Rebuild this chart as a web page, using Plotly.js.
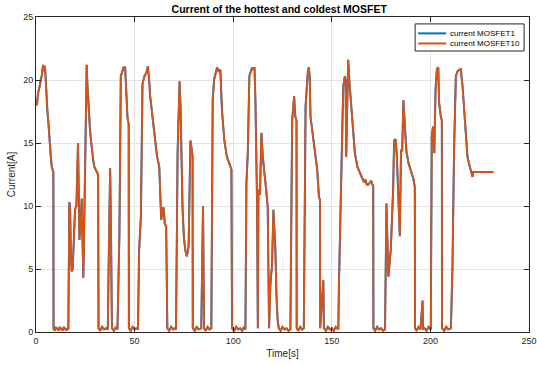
<!DOCTYPE html>
<html>
<head>
<meta charset="utf-8">
<script src="https://cdn.plot.ly/plotly-3.0.1.min.js"></script>
<style>
html,body{margin:0;padding:0;background:#fff;}
#chart{width:537px;height:365px;}
</style>
</head>
<body>
<div id="chart"></div>
<script>
// Time [s]
const timeS = [
0,0.5,1.0,1.5,2.0,2.5,3.0,3.3,3.7,4.0,4.3,4.6,5.0,5.4,5.8,6.3,6.7,7.1,7.5,8.0,8.5,8.8,
8.9,9.5,10.0,10.5,11.0,11.5,12.0,12.5,13.0,13.5,14.0,14.5,15.0,15.5,16.0,16.4,
16.9,17.3,17.7,18.1,18.6,19.2,19.8,20.5,21.0,21.3,21.6,22.0,22.6,23.2,23.5,24.0,24.5,25.0,
25.7,26.1,26.6,27.0,27.4,27.9,28.3,28.7,29.1,29.6,30.2,30.8,31.5,
31.7,32.5,33.5,34.5,35.5,36.4,37.0,37.6,38.1,38.5,39.5,40.5,41.3,
41.8,42.3,43.0,43.7,44.4,45.2,45.8,46.4,47.0,
47.1,48,49,50,51,51.7,
52.3,53.2,54.0,55.0,56.0,56.7,57.3,57.9,58.8,59.6,60.5,61.4,62.0,62.5,63.0,63.5,64.1,64.7,65.3,66.0,
66.6,67.5,68.5,69.5,70.3,71.0,
71.8,72.8,73.3,74.3,75.0,75.7,76.5,77.4,78.3,78.8,79.4,
79.5,80.5,81.5,82.5,83.8,84.2,84.7,85.2,86,87,88,88.9,
89.6,90.3,91.0,91.8,92.6,93.5,94.3,95.5,96.8,98.2,99.1,
99.4,100.5,101.5,102.5,103.5,104.5,105.5,106.2,
106.7,107.4,108.2,109.0,109.6,110.2,110.8,111.3,112.1,112.5,112.8,113.6,114.3,115.0,115.6,116.7,117.5,
118.2,118.9,119.7,120.4,121.4,121.9,122.5,
123.1,124,125,126,127,128,129.0,
129.9,130.9,131.5,132.1,
132.2,133,134,135,135.8,
136.7,137.9,138.4,138.8,139.2,140.6,141.8,142.6,143.5,144.0,
144.1,145.0,145.7,146.0,147,148,149,150,151,152,153.3,
153.6,154.5,155.0,155.8,156.6,157.0,157.3,157.9,158.3,159.0,160.4,161.7,163.0,164.0,164.6,165.5,166.3,167.0,167.7,168.5,169.3,170.0,170.6,171.0,
171.1,172,173,174,175,176,177.0,
177.7,178.7,179.9,181.1,181.6,182.4,183.0,183.6,184.5,185.1,185.7,186.3,187.0,187.8,188.9,190.0,191.3,192.1,
192.2,193,194,195,196.0,196.3,197,198,199,200.2,
200.7,201.3,202.0,202.6,203.3,204.0,204.4,205.3,205.8,
205.9,207,208,209,210.4,
211.2,212.0,212.9,213.8,215.4,216.3,217.1,218.0,218.8,220.0,220.8,221.4,221.6,231.9
];
// Current [A] of MOSFET1
const currentMosfet1 = [
18.4,18.0,18.9,19.2,19.6,20.1,20.4,20.9,21.2,20.7,21.1,21.0,19.8,18.4,17.5,16.6,15.6,14.4,13.9,13.1,12.9,12.7,
0.3,0.1,0.4,0.2,0.3,0.1,0.4,0.2,0.3,0.1,0.4,0.2,0.3,0.1,0.3,0.2,
10.3,9.8,6.0,4.8,5.0,7.5,9.7,10.0,14.0,15.0,12.0,7.3,8.5,10.6,8.0,4.3,9.0,15.0,
21.2,19.5,17.6,17.0,16.0,15.2,14.4,13.8,13.5,13.1,12.9,12.7,12.5,
0.3,0.1,0.4,0.2,0.3,0.2,7.0,13.0,7.0,0.3,0.1,0.4,0.2,
3.3,7.8,20.3,20.6,21.0,21.0,19.0,17.0,16.5,
0.3,0.1,0.4,0.2,0.3,0.2,
6.5,9.2,19.7,20.3,20.6,21.1,20.2,18.7,17.4,16.3,15.0,13.9,13.5,13.1,11.0,8.9,9.6,9.9,8.6,8.4,
0.3,0.1,0.4,0.2,0.3,0.2,
14.2,19.9,17.9,9.9,7.5,6.5,6.0,6.8,15.2,14.4,14.0,
0.3,0.1,0.4,0.2,0.3,7.6,10.0,0.3,0.1,0.4,0.2,0.3,
18.4,20.0,20.5,21.0,20.7,20.8,17.6,15.2,13.9,13.3,12.9,
0.3,0.1,0.4,0.2,0.3,0.1,0.4,0.2,
11.8,14.2,20.3,20.8,21.0,20.8,21.0,18.2,10.2,0.3,11.3,10.9,15.8,13.9,13.1,11.3,9.9,
0.3,3.9,5.3,9.7,6.5,3.1,1.0,
0.3,0.1,0.4,0.2,0.3,0.1,0.2,
16.8,18.7,17.1,16.8,
0.3,0.1,0.4,0.2,0.3,
17.9,20.8,21.0,20.2,17.1,15.5,14.2,12.9,10.7,10.5,
0.3,3.1,4.1,0.3,0.1,0.4,0.2,0.3,0.1,0.4,0.2,
3.6,9.2,13.1,19.5,20.3,20.0,13.9,21.3,21.6,19.7,16.6,14.2,13.1,12.7,12.5,12.1,11.9,12.1,11.7,11.7,11.9,12.0,11.7,11.6,
0.3,0.1,0.4,0.2,0.3,0.1,0.2,
10.2,4.4,6.5,11.3,15.2,15.3,13.9,11.3,7.6,14.4,14.4,18.4,16.6,14.4,13.4,12.9,12.2,11.5,
0.3,0.1,0.4,0.2,2.5,0.2,0.3,0.1,0.4,0.2,
15.5,16.3,14.2,19.2,20.9,21.0,18.2,17.1,16.8,
0.3,0.1,0.4,0.2,0.3,
5.2,14.4,20.3,20.7,20.9,19.5,17.6,15.8,13.9,13.1,12.7,12.3,12.7,12.7
];
// Current [A] of MOSFET10 (overlaps MOSFET1 in the picture)
const currentMosfet10 = currentMosfet1.slice();

const seriesNames = ['current MOSFET1', 'current MOSFET10'];
const seriesColors = ['#0072BD', '#D95319'];
const xTicks = [0, 50, 100, 150, 200, 250];
const yTicks = [0, 5, 10, 15, 20, 25];

const font = 'Liberation Sans, Arial, Helvetica, sans-serif';
const axisCommon = {
  showline: true, linecolor: '#262626', linewidth: 1, mirror: 'ticks',
  ticks: 'inside', ticklen: 5, tickcolor: '#262626', tickwidth: 1,
  showgrid: true, gridcolor: '#e3e3e3', gridwidth: 1, zeroline: false,
  tickfont: {family: font, size: 9, color: '#262626'}
};

const traces = [
  {x: timeS, y: currentMosfet1, name: seriesNames[0], type: 'scatter', mode: 'lines',
   line: {color: seriesColors[0], width: 2}, showlegend: false},
  {x: timeS, y: currentMosfet10, name: seriesNames[1], type: 'scatter', mode: 'lines',
   line: {color: seriesColors[1], width: 1.8}, showlegend: false}
];

// MATLAB-style compact legend box (paper coordinates)
const legBox = {x0: 0.769, x1: 0.990, y0: 0.892, y1: 0.978};
const rowY = [0.948, 0.916];
const shapes = [{type: 'rect', xref: 'paper', yref: 'paper', x0: legBox.x0, x1: legBox.x1,
  y0: legBox.y0, y1: legBox.y1, line: {color: '#262626', width: 1}, fillcolor: '#ffffff', layer: 'above'}];
const annotations = [];
seriesNames.forEach((n, k) => {
  shapes.push({type: 'line', xref: 'paper', yref: 'paper', x0: 0.775, x1: 0.832, y0: rowY[k], y1: rowY[k],
    line: {color: seriesColors[k], width: 2}, layer: 'above'});
  annotations.push({xref: 'paper', yref: 'paper', x: 0.836, y: rowY[k], xanchor: 'left', yanchor: 'middle',
    text: n, showarrow: false, font: {family: font, size: 8, color: '#000'}});
});

const layout = {
  width: 537, height: 365,
  margin: {l: 36, r: 8, t: 17, b: 33},
  paper_bgcolor: '#ffffff', plot_bgcolor: '#ffffff',
  title: {text: '<b>Current of the hottest and coldest MOSFET</b>', x: 0.52, xanchor: 'center',
          y: 0.975, yanchor: 'middle', font: {family: font, size: 10.5, color: '#000'}},
  xaxis: Object.assign({}, axisCommon, {range: [0, 250], tickvals: xTicks, ticktext: xTicks.map(String),
    title: {text: 'Time[s]', font: {family: font, size: 10, color: '#262626'}, standoff: 5}}),
  yaxis: Object.assign({}, axisCommon, {range: [0, 25], tickvals: yTicks, ticktext: yTicks.map(String),
    title: {text: 'Current[A]', font: {family: font, size: 10, color: '#262626'}, standoff: 5}}),
  showlegend: false,
  shapes: shapes,
  annotations: annotations
};

Plotly.newPlot('chart', traces, layout, {staticPlot: true, displayModeBar: false});
</script>
</body>
</html>
